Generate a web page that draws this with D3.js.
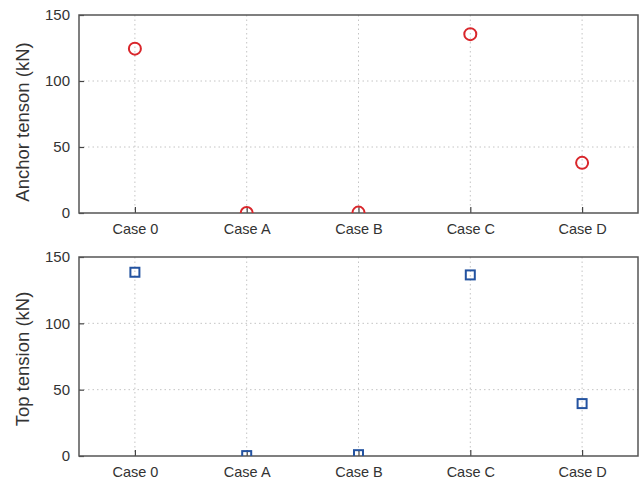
<!DOCTYPE html>
<html>
<head>
<meta charset="utf-8">
<script src="https://cdn.jsdelivr.net/npm/d3@7"></script>
<style>
  html, body { margin: 0; padding: 0; background: #fff; }
  svg text { font-family: "Liberation Sans", Arial, sans-serif; fill: #333; }
</style>
</head>
<body>
<svg id="chart" width="639" height="482"></svg>
<script>
// Load cases shown on both panels
const cases = ["Case 0", "Case A", "Case B", "Case C", "Case D"];
// Anchor line tension per case (kN)
const anchorTension = [124.5, 0, 0.3, 135.5, 38];
// Top (fairlead) tension per case (kN)
const topTension = [138.5, 0.3, 1, 136.5, 39.5];
const yTicks = [0, 50, 100, 150];

const svg = d3.select("#chart");
const left = 79, right = 638;

const x = d3.scalePoint().domain(cases).range([left, right]).padding(0.5);

const panels = [
  { top: 15, bottom: 213, labelY: 122, label: "Anchor tenson (kN)", values: anchorTension, marker: "circle", color: "#d9262b" },
  { top: 257, bottom: 456, labelY: 359, label: "Top tension (kN)", values: topTension, marker: "square", color: "#2453a0" }
];

panels.forEach((p, i) => {
  const y = d3.scaleLinear().domain([0, 150]).range([p.bottom, p.top]);
  const g = svg.append("g");

  const clipId = "clip" + i;
  svg.append("clipPath").attr("id", clipId)
    .append("rect").attr("x", left).attr("y", p.top).attr("width", right - left).attr("height", p.bottom - p.top);

  // dotted grid
  g.append("g").selectAll("line").data(yTicks.slice(1, -1)).join("line")
    .attr("x1", left).attr("x2", right)
    .attr("y1", d => y(d)).attr("y2", d => y(d))
    .attr("stroke", "#c4c4c4").attr("stroke-width", 1).attr("stroke-dasharray", "1.5,3");
  g.append("g").selectAll("line").data(cases).join("line")
    .attr("x1", d => x(d)).attr("x2", d => x(d))
    .attr("y1", p.top).attr("y2", p.bottom)
    .attr("stroke", "#c4c4c4").attr("stroke-width", 1).attr("stroke-dasharray", "1.5,3");

  // axes with inward ticks
  const yAxis = d3.axisLeft(y).tickValues(yTicks).tickSize(-5).tickPadding(9);
  const ya = g.append("g").attr("transform", `translate(${left},0)`).call(yAxis);
  ya.select(".domain").remove();
  ya.selectAll("line").attr("stroke", "#444").attr("stroke-width", 1.2);
  ya.selectAll("text").attr("font-size", 15).attr("fill", "#333")
    .attr("font-family", "'Liberation Sans', Arial, sans-serif");

  const xAxis = d3.axisBottom(x).tickSize(-6).tickPadding(11);
  const xa = g.append("g").attr("transform", `translate(0,${p.bottom})`).call(xAxis);
  xa.select(".domain").remove();
  xa.selectAll("line").attr("stroke", "#444").attr("stroke-width", 1.2);
  xa.selectAll("text").attr("font-size", 14.5).attr("fill", "#333")
    .attr("font-family", "'Liberation Sans', Arial, sans-serif");

  // frame
  g.append("rect").attr("x", left).attr("y", p.top)
    .attr("width", right - left).attr("height", p.bottom - p.top)
    .attr("fill", "none").attr("stroke", "#555").attr("stroke-width", 1.5);

  // y label
  g.append("text")
    .attr("transform", `translate(29,${p.labelY}) rotate(-90)`)
    .attr("text-anchor", "middle").attr("font-size", 18.5).attr("fill", "#333")
    .text(p.label);

  // markers
  const mg = g.append("g").attr("clip-path", `url(#${clipId})`);
  if (p.marker === "circle") {
    mg.selectAll("circle").data(p.values).join("circle")
      .attr("cx", (d, j) => x(cases[j])).attr("cy", d => y(d)).attr("r", 6)
      .attr("fill", "none").attr("stroke", p.color).attr("stroke-width", 2);
  } else {
    const s = 9;
    mg.selectAll("rect.m").data(p.values).join("rect").attr("class", "m")
      .attr("x", (d, j) => x(cases[j]) - s / 2).attr("y", d => y(d) - s / 2)
      .attr("width", s).attr("height", s)
      .attr("fill", "none").attr("stroke", p.color).attr("stroke-width", 2);
  }
});
</script>
</body>
</html>
